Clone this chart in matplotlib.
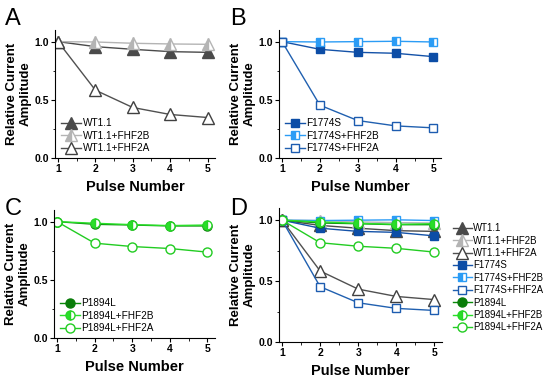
import matplotlib
matplotlib.use("Agg")
import matplotlib.pyplot as plt
from matplotlib.ticker import MultipleLocator

plt.rcParams['font.family'] = ['Liberation Sans', 'DejaVu Sans']

pulses = [1, 2, 3, 4, 5]
wt = [1.0, 0.957, 0.934, 0.914, 0.908]
wt_2b = [1.0, 0.997, 0.986, 0.980, 0.977]
wt_2a = [1.0, 0.583, 0.434, 0.374, 0.348]
f_ = [1.0, 0.934, 0.908, 0.900, 0.871]
f_2b = [1.0, 0.997, 1.0, 1.003, 0.997]
f_2a = [1.0, 0.454, 0.322, 0.276, 0.259]
p_ = [1.0, 0.977, 0.971, 0.963, 0.963]
p_2b = [1.0, 0.986, 0.974, 0.966, 0.971]
p_2a = [1.0, 0.815, 0.786, 0.769, 0.738]

labels_wt = ["WT1.1", "WT1.1+FHF2B", "WT1.1+FHF2A"]
labels_f = ["F1774S", "F1774S+FHF2B", "F1774S+FHF2A"]
labels_p = ["P1894L", "P1894L+FHF2B", "P1894L+FHF2A"]

styles = {
    "WT1.1": dict(color="#4a4a4a", marker="^", ms=8.5, mfc="#4a4a4a", mec="#4a4a4a"),
    "WT1.1+FHF2B": dict(color="#b4b4b4", marker="^", ms=8.5, mfc="#b4b4b4", mec="#b4b4b4",
                        fillstyle="left", markerfacecoloralt="white"),
    "WT1.1+FHF2A": dict(color="#505050", marker="^", ms=8.5, mfc="white", mec="#404040"),
    "F1774S": dict(color="#1452a8", marker="s", ms=6, mfc="#0c4da6", mec="#0c4da6"),
    "F1774S+FHF2B": dict(color="#2b9cf5", marker="s", ms=6, mfc="#2b9cf5", mec="#2b9cf5",
                         fillstyle="left", markerfacecoloralt="white"),
    "F1774S+FHF2A": dict(color="#2060b0", marker="s", ms=6, mfc="white", mec="#1d5cb0"),
    "P1894L": dict(color="#0a8a0a", marker="o", ms=6.5, mfc="#0a7d0a", mec="#0a7d0a"),
    "P1894L+FHF2B": dict(color="#28e028", marker="o", ms=6.5, mfc="#28e028", mec="#28d428",
                         fillstyle="left", markerfacecoloralt="white"),
    "P1894L+FHF2A": dict(color="#22cc22", marker="o", ms=6.5, mfc="white", mec="#22cc22"),
}

series = {
    "WT1.1": wt, "WT1.1+FHF2B": wt_2b, "WT1.1+FHF2A": wt_2a,
    "F1774S": f_, "F1774S+FHF2B": f_2b, "F1774S+FHF2A": f_2a,
    "P1894L": p_, "P1894L+FHF2B": p_2b, "P1894L+FHF2A": p_2a,
}

fig = plt.figure(figsize=(5.5, 3.79), dpi=100)

W, H = 550, 379
def ax_at(l, r, b, t):
    return fig.add_axes([l / W, 1 - b / H, (r - l) / W, (b - t) / H])

axA = ax_at(55, 215, 158, 30)
axB = ax_at(279, 441, 158, 30)
axC = ax_at(54, 215, 338, 210)
axD = ax_at(279, 442, 342, 208)

def style_ax(ax):
    ax.set_xlim(0.92, 5.2)
    ax.set_ylim(0, 1.1)
    ax.spines['top'].set_visible(False)
    ax.spines['right'].set_visible(False)
    ax.xaxis.set_major_locator(MultipleLocator(1))
    ax.xaxis.set_minor_locator(MultipleLocator(0.5))
    ax.yaxis.set_major_locator(MultipleLocator(0.5))
    ax.yaxis.set_minor_locator(MultipleLocator(0.25))
    ax.tick_params(which='major', length=3, width=0.8, labelsize=7.5, pad=1.5)
    ax.tick_params(which='minor', length=1.8, width=0.6)
    ax.yaxis.set_major_formatter(matplotlib.ticker.FormatStrFormatter('%.1f'))
    ax.xaxis.set_major_formatter(matplotlib.ticker.FormatStrFormatter('%d'))
    for lab in ax.get_xticklabels() + ax.get_yticklabels():
        lab.set_fontweight('bold')
    ax.set_xlabel("Pulse Number", fontsize=10.5, fontweight='bold', labelpad=4)
    ax.set_ylabel("Relative Current\nAmplitude", fontsize=9.5, fontweight='bold', labelpad=2,
                  linespacing=1.15)

def draw(ax, names, fs, legend_kwargs):
    for n in names:
        ax.plot(pulses, series[n], lw=1.0, label=n, **styles[n])
    ax.legend(frameon=False, fontsize=fs, handlelength=2.0, handletextpad=0.15,
              labelspacing=0.25, borderaxespad=0.2, **legend_kwargs)

draw(axA, labels_wt, 7.2, dict(loc='lower left', bbox_to_anchor=(0.0, -0.01)))
draw(axB, labels_f, 7.2, dict(loc='lower left', bbox_to_anchor=(0.0, -0.01)))
draw(axC, labels_p, 7.2, dict(loc='lower left', bbox_to_anchor=(0.0, -0.01)))
draw(axD, labels_wt + labels_f + labels_p, 6.9,
     dict(loc='upper left', bbox_to_anchor=(1.03, 0.93)))

for ax in (axA, axB, axC, axD):
    style_ax(ax)

for txt, x, y in (("A", 5, 8), ("B", 230, 8), ("C", 5, 198), ("D", 230, 198)):
    fig.text(x / W, 1 - y / H, txt, fontsize=17, va='top', ha='left')

fig.savefig("out.png", dpi=100)
